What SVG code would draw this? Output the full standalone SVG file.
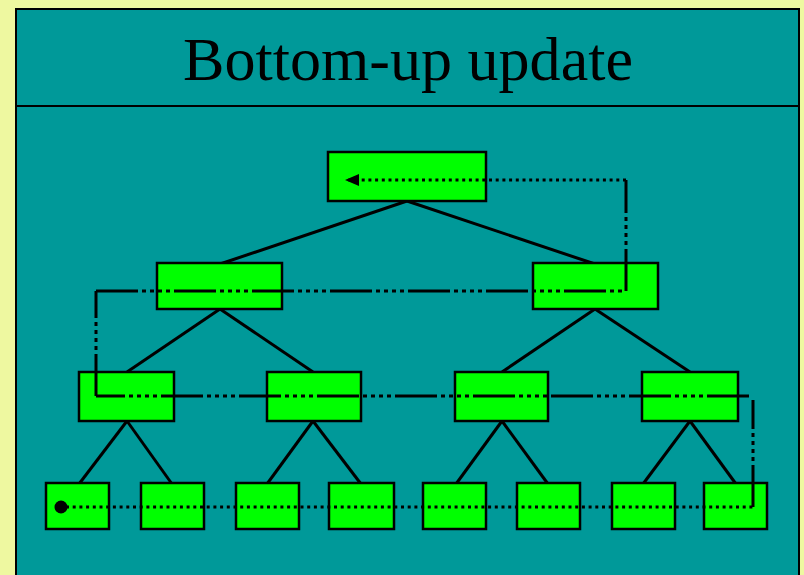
<svg xmlns="http://www.w3.org/2000/svg" width="804" height="575" viewBox="0 0 804 575">
  <style>
    .node { fill: #00ff00; stroke: #000; stroke-width: 2.5; }
    .edge { stroke: #000; stroke-width: 3; fill: none; }
    .dotted { stroke: #000; stroke-width: 3; fill: none; stroke-dasharray: 3 3.7; }
    .dashdot { stroke: #000; stroke-width: 3; fill: none; stroke-dasharray: 42 4 4 4 4 4 4 4 4 4; }
    .title { font-family: "Liberation Serif", "Times New Roman", serif; font-size: 62px; fill: #000; }
  </style>
  <defs>
    <marker id="arrow" viewBox="0 0 14 12" refX="13" refY="6" markerWidth="14" markerHeight="12" markerUnits="userSpaceOnUse" orient="auto">
      <path d="M0,0 L14,6 L0,12 Z" fill="#000"/>
    </marker>
  </defs>

  <!-- page background and panel -->
  <rect x="0" y="0" width="804" height="575" fill="#eef8a0"/>
  <rect x="16" y="9" width="783" height="600" fill="#009999" stroke="#000" stroke-width="2"/>
  <line x1="16" y1="106" x2="799" y2="106" stroke="#000" stroke-width="2"/>
  <text class="title" x="408" y="80" text-anchor="middle" textLength="450" lengthAdjust="spacingAndGlyphs">Bottom-up update</text>

  <!-- tree edges -->
  <g id="tree-edges">
    <line class="edge" x1="407" y1="201" x2="220" y2="264"/>
    <line class="edge" x1="407" y1="201" x2="595" y2="264"/>
    <line class="edge" x1="220" y1="309" x2="127" y2="372"/>
    <line class="edge" x1="220" y1="309" x2="313" y2="372"/>
    <line class="edge" x1="595" y1="309" x2="502" y2="372"/>
    <line class="edge" x1="595" y1="309" x2="690" y2="372"/>
    <line class="edge" x1="127" y1="421" x2="79" y2="484"/>
    <line class="edge" x1="127" y1="421" x2="172" y2="484"/>
    <line class="edge" x1="313" y1="421" x2="267" y2="484"/>
    <line class="edge" x1="313" y1="421" x2="361" y2="484"/>
    <line class="edge" x1="502" y1="421" x2="456" y2="484"/>
    <line class="edge" x1="502" y1="421" x2="548" y2="484"/>
    <line class="edge" x1="690" y1="421" x2="643" y2="484"/>
    <line class="edge" x1="690" y1="421" x2="736" y2="484"/>
  </g>

  <!-- level 1 -->
  <g id="root"><rect class="node" x="328" y="152" width="158" height="49"/></g>
  <!-- level 2 -->
  <g id="n2-left"><rect class="node" x="157" y="263" width="125" height="46"/></g>
  <g id="n2-right"><rect class="node" x="533" y="263" width="125" height="46"/></g>
  <!-- level 3 -->
  <g id="n3-1"><rect class="node" x="79" y="372" width="95" height="49"/></g>
  <g id="n3-2"><rect class="node" x="267" y="372" width="94" height="49"/></g>
  <g id="n3-3"><rect class="node" x="455" y="372" width="93" height="49"/></g>
  <g id="n3-4"><rect class="node" x="642" y="372" width="96" height="49"/></g>
  <!-- leaves -->
  <g id="leaf-1"><rect class="node" x="46" y="483" width="63" height="46"/></g>
  <g id="leaf-2"><rect class="node" x="141" y="483" width="63" height="46"/></g>
  <g id="leaf-3"><rect class="node" x="236" y="483" width="63" height="46"/></g>
  <g id="leaf-4"><rect class="node" x="329" y="483" width="65" height="46"/></g>
  <g id="leaf-5"><rect class="node" x="423" y="483" width="63" height="46"/></g>
  <g id="leaf-6"><rect class="node" x="517" y="483" width="63" height="46"/></g>
  <g id="leaf-7"><rect class="node" x="612" y="483" width="63" height="46"/></g>
  <g id="leaf-8"><rect class="node" x="704" y="483" width="63" height="46"/></g>

  <!-- update path, leaf to root -->
  <g id="update-path">
    <circle cx="61" cy="507" r="6.5" fill="#000"/>
    <line class="dotted" x1="66" y1="507" x2="753" y2="507"/>
    <line class="dashdot" x1="753" y1="507" x2="753" y2="400"/>
    <line class="dashdot" x1="749" y1="396" x2="96" y2="396"/>
    <line class="dashdot" x1="96" y1="396" x2="96" y2="291"/>
    <line class="dashdot" x1="96" y1="291" x2="626" y2="291"/>
    <line class="dashdot" x1="626" y1="291" x2="626" y2="180"/>
    <line class="dotted" x1="626" y1="180" x2="346" y2="180" marker-end="url(#arrow)"/>
  </g>
</svg>
